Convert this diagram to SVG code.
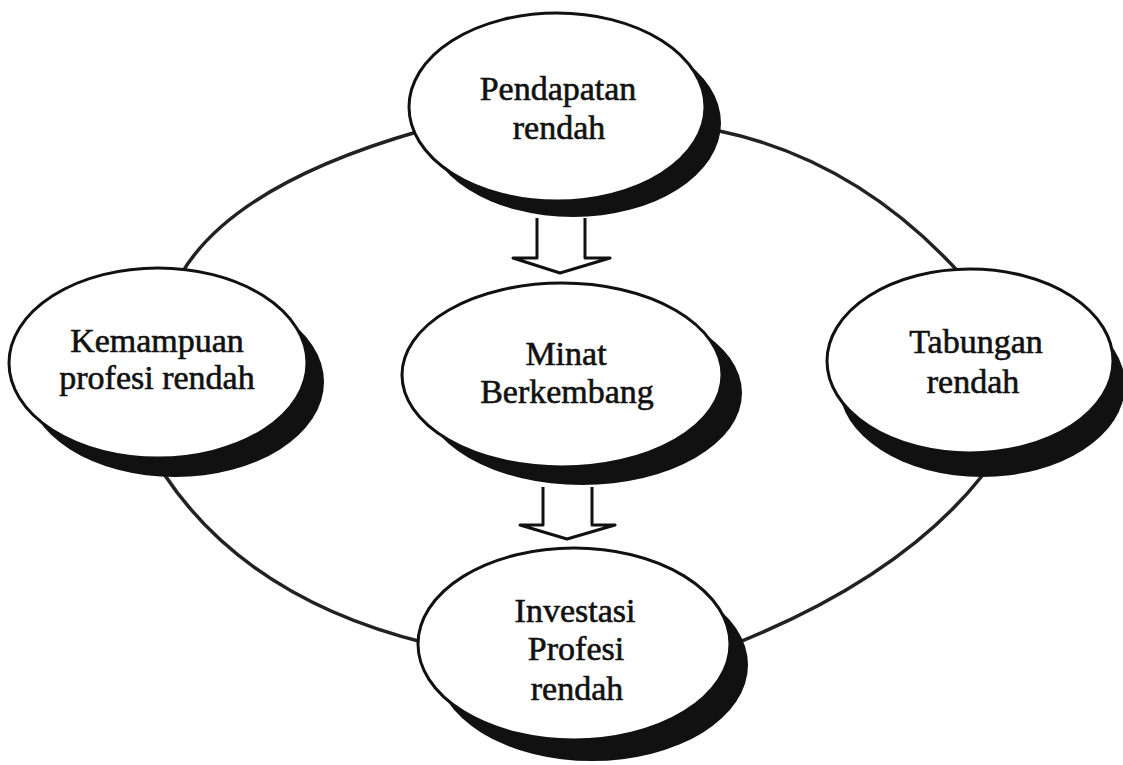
<svg xmlns="http://www.w3.org/2000/svg" width="1123" height="765" viewBox="0 0 1123 765">
<style>
.shadow{fill:#111;stroke:none}
.body{fill:#fff;stroke:#111;stroke-width:3}
.ring{fill:none;stroke:#222;stroke-width:3.5}
.arrow{fill:#fff;stroke:#111;stroke-width:3;stroke-linejoin:round}
text{font-family:"Liberation Serif","Times New Roman",serif;font-size:34px;fill:#111;stroke:#111;stroke-width:0.6;text-anchor:middle}
</style>
<rect width="1123" height="765" fill="#fff"/>
<g id="connectors">
<path class="ring" d="M420,131 Q232,185 180,276"/>
<path class="ring" d="M715,130 Q858,159 964,278"/>
<path class="ring" d="M982,476 Q901,578 732,645"/>
<path class="ring" d="M164,474 Q247,599 426,643"/>
<path class="arrow" d="M537,218 L537,258 L513,258 L560,273 L610,258 L585,258 L585,218"/>
<path class="arrow" d="M543,487 L543,525 L520,525 L567,539 L615,525 L592,525 L592,487"/>
</g>
<g id="node-pendapatan">
<ellipse class="shadow" cx="573" cy="123" rx="148" ry="94"/>
<ellipse class="body" cx="557" cy="107" rx="148" ry="94"/>
<text x="558" y="100">Pendapatan</text>
<text x="559" y="139">rendah</text>
</g>
<g id="node-minat">
<ellipse class="shadow" cx="582" cy="393" rx="160" ry="92"/>
<ellipse class="body" cx="562" cy="375" rx="160" ry="92"/>
<text x="566" y="365">Minat</text>
<text x="567" y="403">Berkembang</text>
</g>
<g id="node-kemampuan">
<ellipse class="shadow" cx="175" cy="382" rx="149" ry="95"/>
<ellipse class="body" cx="158" cy="363" rx="149" ry="95"/>
<text x="157" y="352">Kemampuan</text>
<text x="157" y="389">profesi rendah</text>
</g>
<g id="node-tabungan">
<ellipse class="shadow" cx="982" cy="385" rx="143" ry="92"/>
<ellipse class="body" cx="970" cy="361" rx="143" ry="92"/>
<text x="976" y="353">Tabungan</text>
<text x="973" y="393">rendah</text>
</g>
<g id="node-investasi">
<ellipse class="shadow" cx="592" cy="665" rx="156" ry="96"/>
<ellipse class="body" cx="574" cy="644" rx="156" ry="96"/>
<text x="575" y="622">Investasi</text>
<text x="576" y="660">Profesi</text>
<text x="577" y="700">rendah</text>
</g>
</svg>
